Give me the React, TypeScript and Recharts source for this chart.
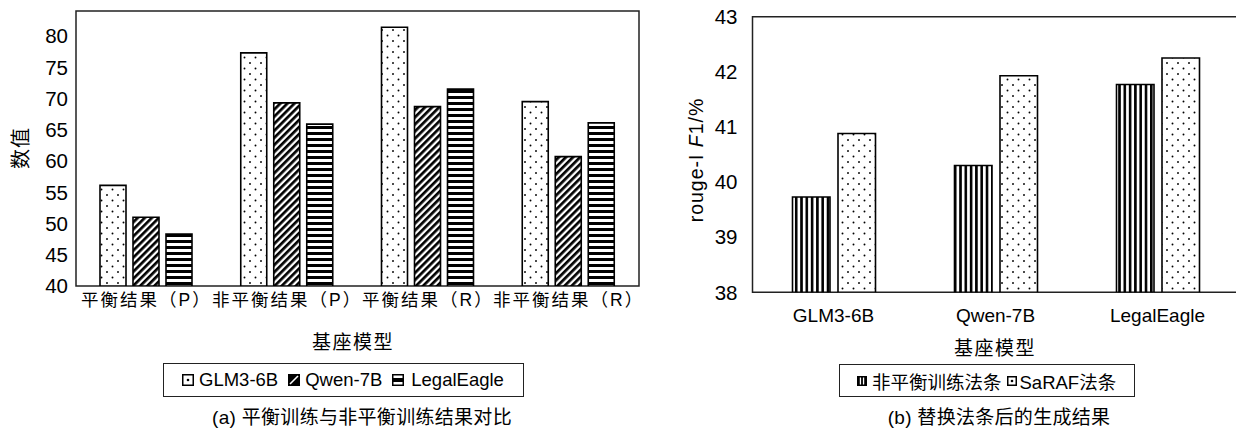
import React from 'react';
import { BarChart, Bar, XAxis, YAxis, ReferenceArea } from 'recharts';

const FONT = '"Liberation Sans", Arial, "Noto Sans CJK SC", sans-serif';

// (a) 平衡训练与非平衡训练结果对比
const groupsA = ['平衡结果（P）', '非平衡结果（P）', '平衡结果（R）', '非平衡结果（R）'];
const glmA = [56.1, 77.3, 81.4, 69.5];
const qwenA = [51.0, 69.3, 68.7, 60.7];
const legalA = [48.3, 65.9, 71.5, 66.1];
const yTicksA = [40, 45, 50, 55, 60, 65, 70, 75, 80];

// (b) 替换法条后的生成结果
const modelsB = ['GLM3-6B', 'Qwen-7B', 'LegalEagle'];
const unbalancedB = [39.73, 40.3, 41.77];
const sarafB = [40.88, 41.93, 42.25];
const yTicksB = [38, 39, 40, 41, 42, 43];

const dataA = groupsA.map((name, i) => ({ name, glm: glmA[i], qwen: qwenA[i], legal: legalA[i] }));
const dataB = modelsB.map((name, i) => ({ name, unbalanced: unbalancedB[i], saraf: sarafB[i] }));

const patternDefs = (p: string) => (
  <defs>
    <pattern id={`${p}-dots`} width={11} height={11} patternUnits="userSpaceOnUse">
      <rect width={11} height={11} fill="#fff" />
      <circle cx={2.5} cy={2.5} r={0.95} fill="#000" />
      <circle cx={8} cy={8} r={0.95} fill="#000" />
    </pattern>
    <pattern id={`${p}-diag`} width={5} height={5} patternUnits="userSpaceOnUse" patternTransform="rotate(-45)">
      <rect width={5} height={5} fill="#fff" />
      <rect width={5} height={2.7} fill="#000" />
    </pattern>
    <pattern id={`${p}-hline`} width={6} height={6} patternUnits="userSpaceOnUse">
      <rect width={6} height={6} fill="#fff" />
      <rect width={6} height={3} fill="#000" />
    </pattern>
    <pattern id={`${p}-vline`} width={5.3} height={6} patternUnits="userSpaceOnUse">
      <rect width={5.3} height={6} fill="#fff" />
      <rect width={2.6} height={6} fill="#000" />
    </pattern>
  </defs>
);

const textStyle: React.CSSProperties = { position: 'absolute', fontFamily: FONT, color: '#000', whiteSpace: 'nowrap' };

const centered = (x: number, y: number, extra?: React.CSSProperties): React.CSSProperties => ({
  ...textStyle,
  left: x,
  top: y,
  transform: 'translate(-50%, -50%)',
  ...extra,
});

const IconDots = ({ s }: { s: number }) => (
  <svg width={s} height={s} style={{ display: 'block' }}>
    <rect x={0.75} y={0.75} width={s - 1.5} height={s - 1.5} fill="#fff" stroke="#000" strokeWidth={1.5} />
    <circle cx={s / 2} cy={s / 2} r={1.3} fill="#000" />
  </svg>
);

const IconDiag = ({ s }: { s: number }) => (
  <svg width={s} height={s} style={{ display: 'block' }}>
    <rect x={0} y={0} width={s} height={s} fill="#000" />
    <line x1={2} y1={s - 2} x2={s - 2} y2={2} stroke="#fff" strokeWidth={1.6} />
  </svg>
);

const IconHLine = ({ s }: { s: number }) => (
  <svg width={s} height={s} style={{ display: 'block' }}>
    <rect x={0.75} y={0.75} width={s - 1.5} height={s - 1.5} fill="#fff" stroke="#000" strokeWidth={1.5} />
    <rect x={0} y={s / 2 - 2} width={s} height={4} fill="#000" />
  </svg>
);

const IconVLine = ({ s }: { s: number }) => (
  <svg width={s} height={s} style={{ display: 'block' }}>
    <rect x={0} y={0} width={s} height={s} fill="#000" />
    <rect x={s / 2 - 2.2} y={1.5} width={1.3} height={s - 3} fill="#fff" />
    <rect x={s / 2 + 0.9} y={1.5} width={1.3} height={s - 3} fill="#fff" />
  </svg>
);

const legendBox: React.CSSProperties = {
  position: 'absolute',
  border: '1.5px solid #222',
  boxSizing: 'border-box',
  display: 'flex',
  alignItems: 'center',
  fontFamily: FONT,
  fontSize: 18.5,
  color: '#000',
  whiteSpace: 'nowrap',
};

export default function App() {
  return (
    <div style={{ position: 'absolute', left: 0, top: 0, width: 1236, height: 431, overflow: 'hidden', background: '#fff' }}>
      {/* chart (a) */}
      <div style={{ position: 'absolute', left: 0, top: 0 }}>
        <BarChart width={660} height={360} data={dataA} margin={{ top: 11, right: 21, bottom: 0, left: 0 }} barSize={26} barGap={7}>
          {patternDefs('a')}
          <XAxis
            dataKey="name"
            axisLine={false}
            tickLine={false}
            height={74}
            interval={0}
            tick={{ fontSize: 17.5, fill: '#000', fontFamily: FONT, letterSpacing: 2 }}
          />
          <YAxis
            domain={[40, 84]}
            ticks={yTicksA}
            interval={0}
            axisLine={false}
            tickLine={false}
            width={76}
            allowDataOverflow
            tick={{ fontSize: 20.5, fill: '#000', fontFamily: FONT }}
          />
          <ReferenceArea y1={40} y2={84} fill="none" fillOpacity={0} stroke="#222" strokeWidth={1.5} />
          <Bar dataKey="glm" fill="url(#a-dots)" stroke="#000" strokeWidth={1.6} isAnimationActive={false} />
          <Bar dataKey="qwen" fill="url(#a-diag)" stroke="#000" strokeWidth={1.6} isAnimationActive={false} />
          <Bar dataKey="legal" fill="url(#a-hline)" stroke="#000" strokeWidth={1.6} isAnimationActive={false} />
        </BarChart>
      </div>
      <div style={centered(19, 148, { fontSize: 20, letterSpacing: 1, transform: 'translate(-50%, -50%) rotate(-90deg)' })}>数值</div>
      <div style={centered(353, 340, { fontSize: 19, letterSpacing: 1.5 })}>基座模型</div>
      <div style={{ ...legendBox, left: 163, top: 363, width: 361, height: 34, paddingLeft: 18 }}>
        <IconDots s={12} />
        <span style={{ marginLeft: 5 }}>GLM3-6B</span>
        <span style={{ marginLeft: 10 }}><IconDiag s={12} /></span>
        <span style={{ marginLeft: 5 }}>Qwen-7B</span>
        <span style={{ marginLeft: 10 }}><IconHLine s={12} /></span>
        <span style={{ marginLeft: 7 }}>LegalEagle</span>
      </div>
      <div style={centered(362, 415, { fontSize: 19, letterSpacing: 0.3 })}>(a) 平衡训练与非平衡训练结果对比</div>

      {/* chart (b) */}
      <div style={{ position: 'absolute', left: 620, top: 0 }}>
        <BarChart width={640} height={360} data={dataB} margin={{ top: 16.7, right: 21.5, bottom: 0, left: 0 }} barSize={37.5} barGap={8}>
          {patternDefs('b')}
          <XAxis
            dataKey="name"
            axisLine={false}
            tickLine={false}
            height={67.7}
            interval={0}
            tickMargin={10}
            tick={{ fontSize: 19, fill: '#000', fontFamily: FONT }}
          />
          <YAxis
            domain={[38, 43]}
            ticks={yTicksB}
            interval={0}
            axisLine={false}
            tickLine={false}
            width={132.5}
            tickMargin={9}
            allowDataOverflow
            tick={{ fontSize: 20.5, fill: '#000', fontFamily: FONT }}
          />
          <ReferenceArea y1={38} y2={43} fill="none" fillOpacity={0} stroke="#222" strokeWidth={1.5} />
          <Bar dataKey="unbalanced" fill="url(#b-vline)" stroke="#000" strokeWidth={1.6} isAnimationActive={false} />
          <Bar dataKey="saraf" fill="url(#b-dots)" stroke="#000" strokeWidth={1.6} isAnimationActive={false} />
        </BarChart>
      </div>
      <div style={centered(696, 160, { fontSize: 19.5, letterSpacing: 1, transform: 'translate(-50%, -50%) rotate(-90deg)' })}>
        rouge-I <i>F</i>1/%
      </div>
      <div style={centered(995, 346, { fontSize: 19, letterSpacing: 1.5 })}>基座模型</div>
      <div style={{ ...legendBox, left: 839, top: 364, width: 296, height: 33, paddingLeft: 17 }}>
        <IconVLine s={10} />
        <span style={{ marginLeft: 5 }}>非平衡训练法条</span>
        <span style={{ marginLeft: 5 }}><IconDots s={10} /></span>
        <span style={{ marginLeft: 3 }}>SaRAF法条</span>
      </div>
      <div style={centered(999, 415, { fontSize: 19, letterSpacing: 0.3 })}>(b) 替换法条后的生成结果</div>
    </div>
  );
}
